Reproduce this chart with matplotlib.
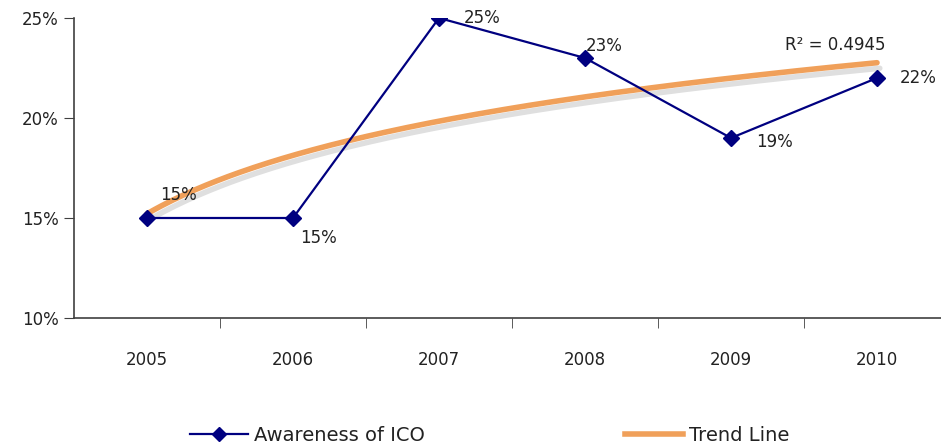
import numpy as np
import matplotlib
matplotlib.use("Agg")
import matplotlib.pyplot as plt
import matplotlib.patheffects as pe
from matplotlib.ticker import FixedLocator

years = ["2005", "2006", "2007", "2008", "2009", "2010"]
awareness = [15, 15, 25, 23, 19, 22]
label_texts = ["15%", "15%", "25%", "23%", "19%", "22%"]
# label offsets in pixels, right of each point (Excel style placement)
label_offsets = [(31, 23), (25, -20), (43, 0), (19, 12), (43, -4), (41, 0)]
r2_text = "R\u00b2 = 0.4945"
y_ticks = [10, 15, 20, 25]

navy = "#000080"
orange = "#F0A05A"
axis_col = "#404040"

plt.rcParams['font.family'] = ['DejaVu Sans']

fig = plt.figure(figsize=(9.41, 4.44), dpi=100)
ax = fig.add_axes([74 / 941, 1 - 318 / 444, (950 - 74) / 941, 300 / 444])

x = np.arange(len(years))

# logarithmic trend line fitted to the series
b, a = np.polyfit(np.log(x + 1), awareness, 1)
xs = np.linspace(0, len(years) - 1, 200)
trend = a + b * np.log(xs + 1)
ax.plot(xs, trend, color=orange, lw=4, solid_capstyle='round', zorder=2,
        path_effects=[pe.SimpleLineShadow(offset=(2, -4), shadow_color='gray', alpha=0.25),
                      pe.Normal()])

ax.plot(x, awareness, color=navy, lw=1.6, marker='D', markersize=8, zorder=3)

for xi, yi, txt, off in zip(x, awareness, label_texts, label_offsets):
    ax.annotate(txt, (xi, yi), xytext=off, textcoords='offset pixels',
                ha='center', va='center', fontsize=12, color='#222222')

ax.text(5.06, 23.65, r2_text, ha='right', va='center', fontsize=12, color='#222222')

ax.set_xlim(-0.5, len(years) - 0.5)
ax.set_ylim(10, 25)
ax.set_yticks(y_ticks)
ax.set_yticklabels([f"{t}%" for t in y_ticks], fontsize=12, color='#222222')
ax.set_xticks(x)
ax.set_xticklabels(years, fontsize=12, color='#222222')
ax.tick_params(axis='x', which='major', length=0, pad=24)
ax.xaxis.set_minor_locator(FixedLocator(np.arange(0.5, len(years) - 0.5, 1)))
ax.tick_params(axis='x', which='minor', length=7, color=axis_col, direction='out')
ax.tick_params(axis='y', length=7, color=axis_col, pad=4)

for s in ['top', 'right']:
    ax.spines[s].set_visible(False)
for s in ['left', 'bottom']:
    ax.spines[s].set_color(axis_col)
    ax.spines[s].set_linewidth(1.2)

h1, = ax.plot([], [], color=navy, lw=1.6, marker='D', markersize=7)
h2, = ax.plot([], [], color=orange, lw=4)
leg_y = 1 - 435 / 444
for h, lab, x0 in [(h1, "Awareness of ICO", 190), (h2, "Trend Line", 625)]:
    lg = fig.legend([h], [lab], loc='center left', bbox_to_anchor=(x0 / 941, leg_y),
                    frameon=False, fontsize=14, handlelength=3.0, handletextpad=0.3,
                    borderpad=0, borderaxespad=0)
    for t in lg.get_texts():
        t.set_color('#222222')

fig.savefig("out.png", dpi=100)
